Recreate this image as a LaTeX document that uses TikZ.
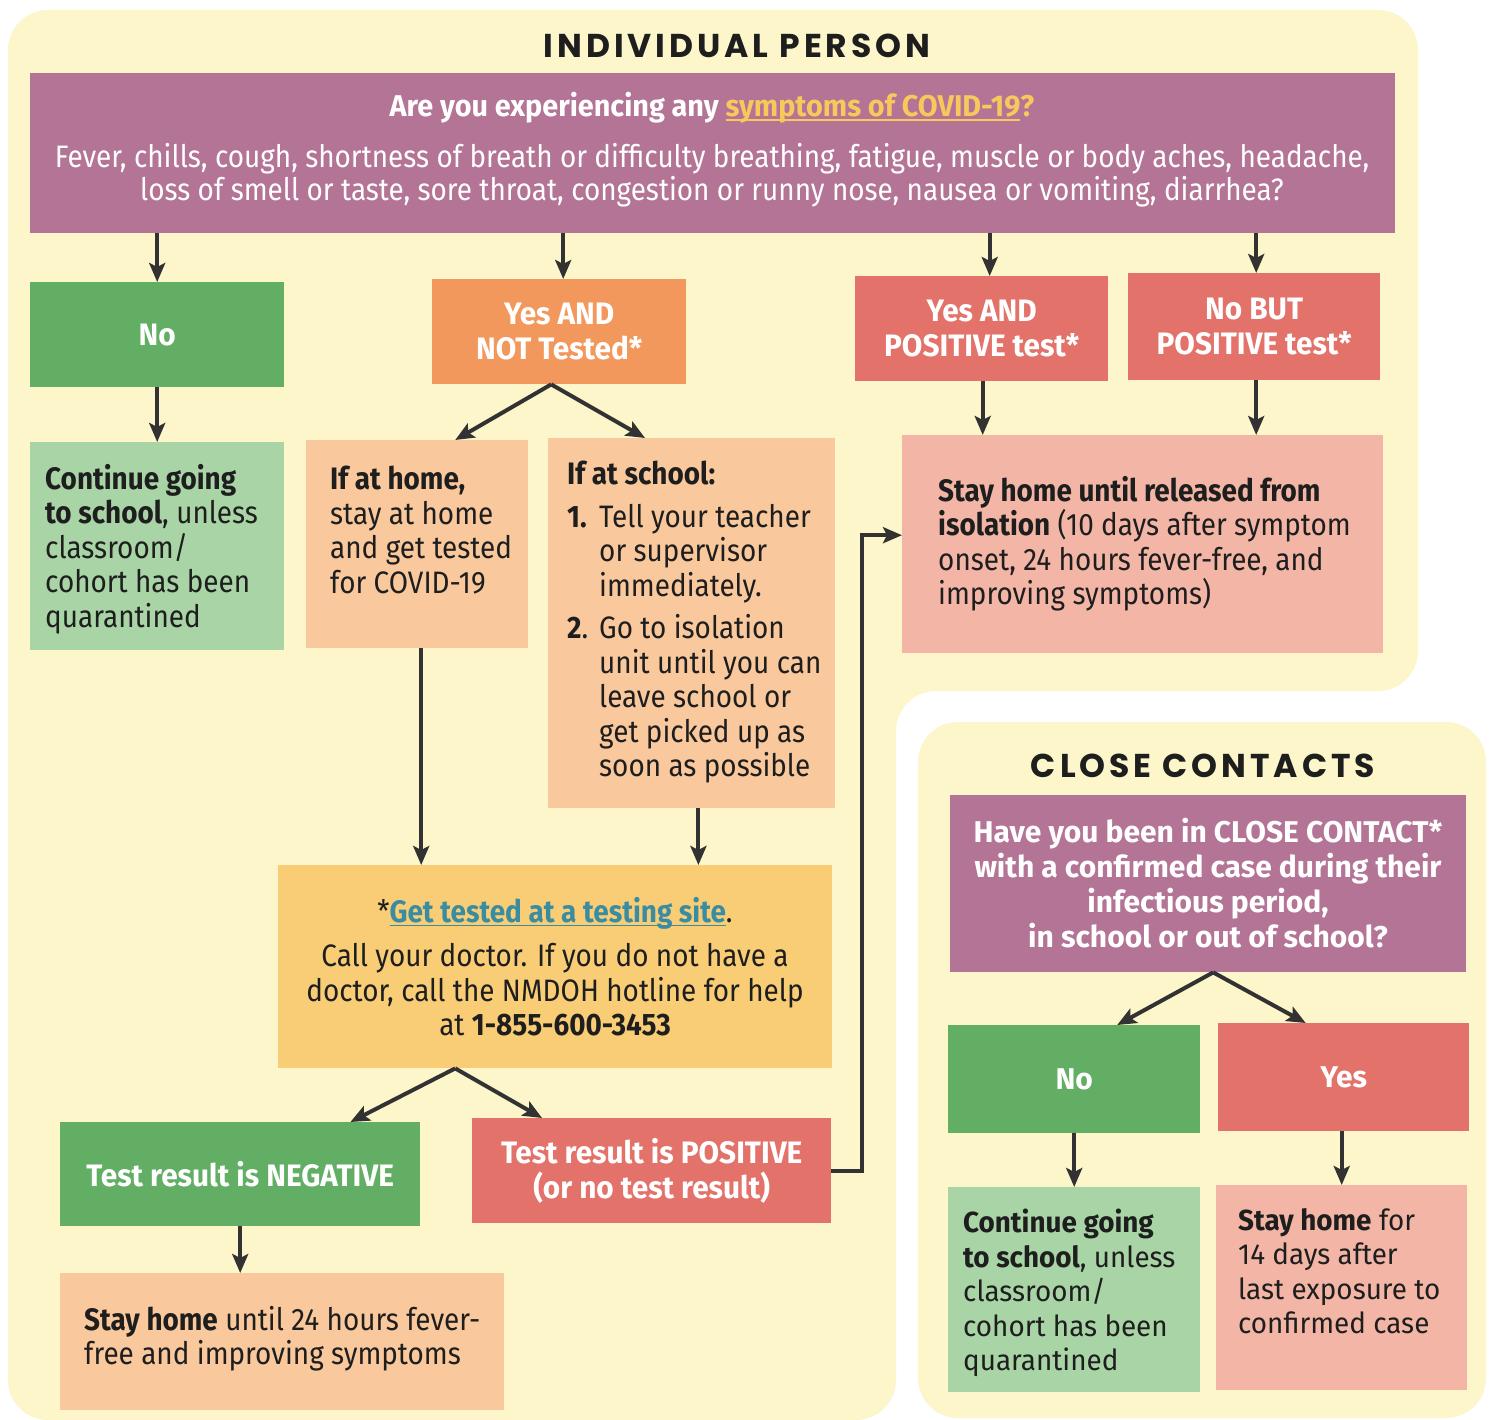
\documentclass[tikz,border=0pt]{standalone}
\usepackage{fontspec}
\setmainfont{Fira Sans}[FakeStretch=0.9]
\newfontfamily\labfont{Fira Sans}[FakeStretch=0.96]
\newfontfamily\wide{Fira Sans}[FakeStretch=0.96]
\newfontfamily\ccfont{Fira Sans}
\newfontfamily\titlefont{Poppins}[LetterSpace=12]
\newsavebox\ulbox
\newcommand\ulin[1]{\sbox\ulbox{#1}\rlap{\rule[-4pt]{\wd\ulbox}{1.6pt}}\usebox\ulbox}
\usetikzlibrary{arrows.meta,calc}
\definecolor{panel}{RGB}{252,246,202}
\definecolor{purp}{RGB}{180,116,150}
\definecolor{gdark}{RGB}{98,174,100}
\definecolor{glight}{RGB}{168,212,166}
\definecolor{orng}{RGB}{243,152,92}
\definecolor{olight}{RGB}{249,200,156}
\definecolor{redb}{RGB}{226,114,106}
\definecolor{pinkb}{RGB}{243,182,166}
\definecolor{yelb}{RGB}{249,205,118}
\definecolor{linky}{RGB}{248,200,92}
\definecolor{linkt}{RGB}{58,140,160}
\definecolor{txtd}{RGB}{30,30,30}
\definecolor{arrg}{RGB}{50,50,50}
\newcommand\mkbox[6]{\node[#6, minimum width={#4-#2}, minimum height={#5-#3}, anchor=north west, inner sep=0pt] (#1) at (#2,#3) {};}
\begin{document}
\begin{tikzpicture}[x=1pt,y=-1pt,
  arr/.style={draw=arrg, line width=4pt, -{Stealth[length=19pt,width=16pt,inset=4pt]}},
  body/.style={inner sep=0pt, align=left, text=txtd, font=\fontsize{31}{34.5}\selectfont},
  wbody/.style={inner sep=0pt, align=left, text=txtd, font=\wide\fontsize{29}{34.5}\selectfont},
  lab/.style={inner sep=0pt, align=center, text=white, font=\labfont\bfseries\fontsize{31}{35}\selectfont},
  cclab/.style={inner sep=0pt, align=center, text=white, font=\ccfont\bfseries\fontsize{30}{35}\selectfont},
  ttl/.style={inner sep=0pt, text=txtd, font=\titlefont\bfseries\fontsize{33}{38}\selectfont}]
\useasboundingbox (0,0) rectangle (1491,1420);
\fill[white] (0,0) rectangle (1491,1420);
% panels
\fill[panel, rounded corners=40pt] (8,10) -- (1418,10) -- (1418,691) -- (896,691) -- (896,1420) -- (8,1420) -- cycle;
\fill[panel, rounded corners=40pt] (918,722) -- (1486,722) -- (1486,1418) -- (918,1418) -- cycle;
% titles
\node[ttl] (t1) at (737,46) {INDIVIDUAL PERSON};
\node[ttl] (t2) at (1203,766) {CLOSE CONTACTS};
% boxes
\mkbox{hdr}{30}{73}{1395}{233}{fill=purp}
\mkbox{no}{30}{282}{284}{387}{fill=gdark}
\mkbox{yesnt}{432}{279}{686}{384}{fill=orng}
\mkbox{yespos}{855}{276}{1108}{381}{fill=redb}
\mkbox{nobut}{1128}{273}{1380}{380}{fill=redb}
\mkbox{cont}{30}{442}{284}{650}{fill=glight}
\mkbox{home}{306}{440}{528}{648}{fill=olight}
\mkbox{school}{548}{438}{835}{808}{fill=olight}
\mkbox{iso}{902}{435}{1383}{653}{fill=pinkb}
\mkbox{gett}{278}{865}{832}{1068}{fill=yelb}
\mkbox{neg}{60}{1122}{420}{1226}{fill=gdark}
\mkbox{pos}{472}{1118}{831}{1223}{fill=redb}
\mkbox{sh24}{60}{1273}{504}{1410}{fill=olight}
\mkbox{cchdr}{950}{795}{1466}{972}{fill=purp}
\mkbox{ccno}{948}{1025}{1200}{1133}{fill=gdark}
\mkbox{ccyes}{1218}{1023}{1469}{1131}{fill=redb}
\mkbox{cccont}{948}{1187}{1200}{1392}{fill=glight}
\mkbox{ccstay}{1216}{1185}{1467}{1390}{fill=pinkb}
% header text
\node[lab, font=\labfont\bfseries\fontsize{30}{35}\selectfont] (q1) at (712,108) {Are you experiencing any \textcolor{linky}{\ulin{symptoms of COVID-19}?}};
\node[inner sep=0pt, align=center, text=white, font=\fontsize{31}{33}\selectfont] (q2) at (712,175) {Fever, chills, cough, shortness of breath or difficulty breathing, fatigue, muscle or body aches, headache,\\ loss of smell or taste, sore throat, congestion or runny nose, nausea or vomiting, diarrhea?};
% labels
\node[lab] (lno) at (no) {No};
\node[lab] (lyesnt) at (yesnt) {Yes AND\\ NOT Tested*};
\node[lab] (lyespos) at (yespos) {Yes AND\\ POSITIVE test*};
\node[lab] (lnobut) at (nobut) {No BUT\\ POSITIVE test*};
\node[lab] (lneg) at (neg) {Test result is NEGATIVE};
\node[lab] (lpos) at (pos) {Test result is POSITIVE\\ (or no test result)};
% body texts
\node[body, anchor=north west] (tcont) at (45,464) {\textbf{Continue going}\\ \textbf{to school}, unless\\ classroom/\\ cohort has been\\ quarantined};
\node[body, anchor=north west] (thome) at (330,466) {\textbf{If at home,}\\ stay at home\\ and get tested\\ for COVID-19};
\node[body, anchor=north west] (tschool) at (567,461) {\textbf{If at school:}\\[8pt]
\makebox[32pt][l]{\textbf{1.}}Tell your teacher\\ \hspace*{32pt}or supervisor\\ \hspace*{32pt}immediately.\\[8pt]
\makebox[32pt][l]{\textbf{2}.}Go to isolation\\ \hspace*{32pt}unit until you can\\ \hspace*{32pt}leave school or\\ \hspace*{32pt}get picked up as\\ \hspace*{32pt}soon as possible};
\node[body, anchor=north west] (tiso) at (938,476) {\textbf{Stay home until released from}\\ \textbf{isolation} (10 days after symptom\\ onset, 24 hours fever-free, and\\ improving symptoms)};
\node[body, align=center] (tget1) at (555,913) {*\textcolor{linkt}{\textbf{\ulin{Get tested at a testing site}}}.};
\node[body, align=center] (tget2) at (555,990) {Call your doctor. If you do not have a\\ doctor, call the NMDOH hotline for help\\ at \textbf{1-855-600-3453}};
\node[body, anchor=north west] (tsh24) at (84,1306) {\textbf{Stay home} until 24 hours fever-\\ free and improving symptoms};
% close contacts texts
\node[cclab] (tcc) at (1208,883) {Have you been in CLOSE CONTACT*\\ with a confirmed case during their\\ infectious period,\\ in school or out of school?};
\node[cclab] (lccno) at (ccno) {No};
\node[cclab] (lccyes) at (ccyes) {Yes};
\node[wbody, anchor=north west] (tcccont) at (963,1209) {\textbf{Continue going}\\ \textbf{to school}, unless\\ classroom/\\ cohort has been\\ quarantined};
\node[wbody, anchor=north west] (tccstay) at (1238,1208) {\textbf{Stay home} for\\ 14 days after\\ last exposure to\\ confirmed case};
% helper coordinates
\coordinate (cyn) at ([xshift=4pt]yesnt.north);
\coordinate (cyp) at ([xshift=8pt]yespos.north);
\coordinate (cnb) at ([xshift=2pt]nobut.north);
\coordinate (ciso) at ([xshift=-160pt]iso.north);
\coordinate (chome) at ([xshift=4pt]home.south);
\coordinate (csch) at ([xshift=-137pt]school.south east);
\coordinate (cnbs) at ([xshift=2pt]nobut.south);
\coordinate (cys) at ([xshift=-2pt]ccyes.south);
% arrows
\draw[arr] (hdr.south -| no.north) -- (no.north);
\draw[arr] (hdr.south -| cyn) -- (cyn);
\draw[arr] (hdr.south -| cyp) -- (cyp);
\draw[arr] (hdr.south -| cnb) -- (cnb);
\draw[arr] (no.south) -- (cont.north);
\draw[arr] ([xshift=-8pt]yesnt.south) -- ([xshift=38pt]home.north);
\draw[arr] ([xshift=-8pt]yesnt.south) -- ([xshift=97pt]school.north west);
\draw[arr] (yespos.south -| ciso) -- (ciso);
\draw[arr] (cnbs) -- (iso.north -| cnbs);
\draw[arr] (chome) -- (chome |- gett.north);
\draw[arr] (csch) -- (csch |- gett.north);
\draw[arr] ([xshift=-100pt]gett.south) -- ([xshift=-70pt]neg.north east);
\draw[arr] ([xshift=-100pt]gett.south) -- ([xshift=70pt]pos.north west);
\draw[arr] (pos.east) -- ++(31,0) |- ([yshift=9pt]iso.west);
\draw[arr] (neg.south) -- (neg.south |- sh24.north);
\draw[arr] ([xshift=5pt]cchdr.south) -- ([xshift=43pt]ccno.north);
\draw[arr] ([xshift=5pt]cchdr.south) -- ([xshift=-38pt]ccyes.north);
\draw[arr] (ccno.south) -- (ccno.south |- cccont.north);
\draw[arr] (cys) -- (cys |- ccstay.north);
\end{tikzpicture}
\end{document}
